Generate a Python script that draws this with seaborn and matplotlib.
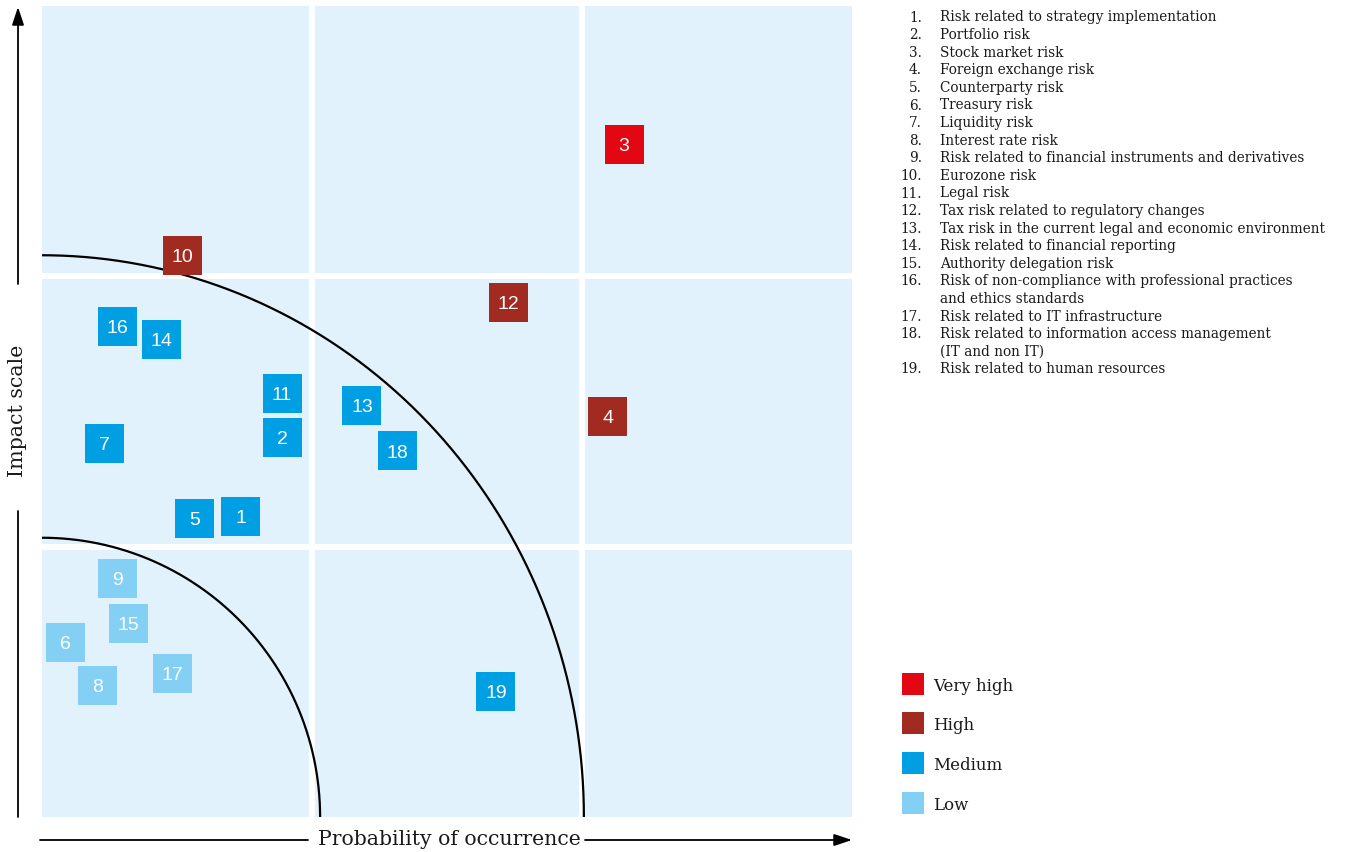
import matplotlib
matplotlib.use("Agg")
import matplotlib.pyplot as plt
from matplotlib.lines import Line2D
import numpy as np
import pandas as pd
import seaborn as sns

# ---- data -------------------------------------------------------------
risk_ids = [3, 10, 12, 4, 16, 14, 11, 13, 2, 7, 18, 5, 1, 9, 15, 6, 8, 17, 19]
probability = [2.156, 0.519, 1.726, 2.096, 0.281, 0.444, 0.889, 1.185, 0.889,
               0.230, 1.315, 0.565, 0.735, 0.280, 0.320, 0.087, 0.205, 0.483, 1.681]
impact = [2.488, 2.078, 1.905, 1.482, 1.816, 1.767, 1.567, 1.524, 1.404,
          1.382, 1.354, 1.106, 1.113, 0.884, 0.717, 0.647, 0.486, 0.532, 0.464]
level = ["Very high", "High", "High", "High", "Medium", "Medium", "Medium",
         "Medium", "Medium", "Medium", "Medium", "Medium", "Medium",
         "Low", "Low", "Low", "Low", "Low", "Medium"]

level_names = ["Very high", "High", "Medium", "Low"]
level_colors = ["#E30613", "#A12B20", "#009FE3", "#84D0F5"]

risk_names = [
    "Risk related to strategy implementation",
    "Portfolio risk",
    "Stock market risk",
    "Foreign exchange risk",
    "Counterparty risk",
    "Treasury risk",
    "Liquidity risk",
    "Interest rate risk",
    "Risk related to financial instruments and derivatives",
    "Eurozone risk",
    "Legal risk",
    "Tax risk related to regulatory changes",
    "Tax risk in the current legal and economic environment",
    "Risk related to financial reporting",
    "Authority delegation risk",
    "Risk of non-compliance with professional practices\nand ethics standards",
    "Risk related to IT infrastructure",
    "Risk related to information access management\n(IT and non IT)",
    "Risk related to human resources",
]

# zone boundaries (quarter ellipses from the origin)
inner_radii = (1.03, 1.033)
outer_radii = (2.007, 2.078)

df = pd.DataFrame({"id": risk_ids, "probability": probability,
                   "impact": impact, "level": level})

# ---- figure -----------------------------------------------------------
sns.set_theme(style="white")
W, H = 1345, 853
fig = plt.figure(figsize=(W / 100, H / 100), dpi=100)
ax = fig.add_axes([42 / W, 1 - 818 / H, 810 / W, 811 / H])
ax.set_facecolor("#E1F2FC")
ax.set_xlim(0, 3)
ax.set_ylim(0, 3)
for s in ax.spines.values():
    s.set_visible(False)
ax.set_xticks([])
ax.set_yticks([])

# white gutters between the nine cells
for v in (1, 2):
    ax.axvline(v, color="white", lw=4.3, zorder=1)
    ax.axhline(v, color="white", lw=4.3, zorder=1)

# zone curves
t = np.linspace(0, np.pi / 2, 300)
for rx, ry in (inner_radii, outer_radii):
    ax.plot(rx * np.cos(t), ry * np.sin(t), color="black", lw=1.6, zorder=2,
            clip_on=False, solid_capstyle="butt")

# risk squares
side_pt = 39 * 0.72
sns.scatterplot(data=df, x="probability", y="impact", hue="level",
                hue_order=level_names, palette=level_colors, marker="s",
                s=side_pt ** 2, linewidth=0, legend=False, ax=ax, zorder=3)
for rid, px, py in zip(risk_ids, probability, impact):
    ax.text(px, py - 0.004, str(rid), color="white", ha="center", va="center",
            fontsize=14, family="Liberation Sans", zorder=4)
ax.set_xlabel("")
ax.set_ylabel("")

# ---- axis arrows with titles ---------------------------------------------
serif = "DejaVu Serif"
ink = "#1a1a1a"
arrow_kw = dict(arrowstyle="-|>,head_length=0.9,head_width=0.3", color="black",
                lw=1.3, shrinkA=0, shrinkB=0)
fig_px = "figure pixels"
# vertical
ax.annotate("", xy=(18, H - 8), xytext=(18, H - 285), xycoords=fig_px,
            textcoords=fig_px, arrowprops=arrow_kw, annotation_clip=False)
fig.add_artist(Line2D([18, 18], [H - 512, H - 818], color="black", lw=1.3,
                      transform=None))
fig.text(18 / W, 1 - 411 / H, "Impact scale", rotation=90, ha="center",
         va="center", fontsize=14.8, family=serif, color=ink)
# horizontal
fig.add_artist(Line2D([40, 308], [H - 841, H - 841], color="black", lw=1.3,
                      transform=None))
ax.annotate("", xy=(852, H - 841), xytext=(585, H - 841), xycoords=fig_px,
            textcoords=fig_px, arrowprops=arrow_kw, annotation_clip=False)
fig.text(449 / W, 1 - 840 / H, "Probability of occurrence", ha="center",
         va="center", fontsize=14.7, family=serif, color=ink)

# ---- numbered list of risks ------------------------------------------
line_h = 17.6
list_size = 9.85
y = 17.5
for i, name in enumerate(risk_names, start=1):
    fig.text(922 / W, 1 - y / H, f"{i}.", ha="right", va="center",
             fontsize=list_size, family=serif, color=ink)
    for k, part in enumerate(name.split("\n")):
        fig.text(940 / W, 1 - (y + k * line_h) / H, part, ha="left",
                 va="center", fontsize=list_size, family=serif, color=ink)
    y += line_h * (name.count("\n") + 1)

# ---- legend -------------------------------------------------------------
handles = [Line2D([], [], marker="s", ls="none", markersize=22 * 0.72,
                  markerfacecolor=c, markeredgewidth=0) for c in level_colors]
fig.legend(handles, level_names, loc="upper left",
           bbox_to_anchor=(896 / W, 1 - 671 / H), frameon=False,
           prop={"family": serif, "size": 12}, labelspacing=1.36,
           handlelength=1.2, handletextpad=0.6, borderaxespad=0,
           labelcolor=ink)

fig.savefig("out.png", dpi=100)
